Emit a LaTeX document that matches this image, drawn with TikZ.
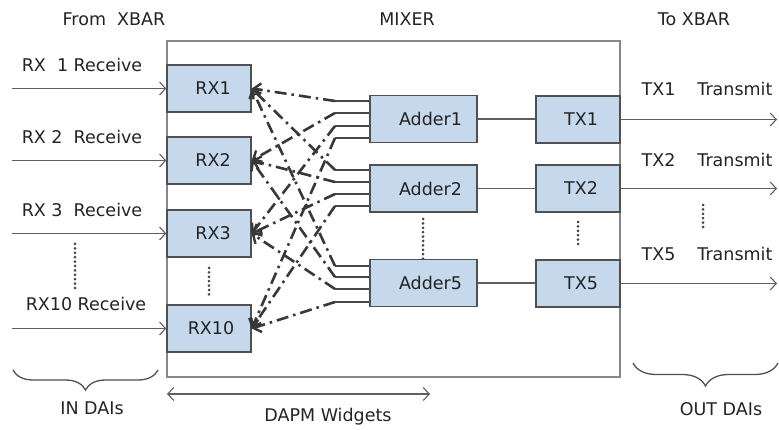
\documentclass[tikz,border=0pt]{standalone}
\usepackage{fontspec}
\setmainfont{DejaVu Sans}
\usetikzlibrary{arrows.meta,decorations.pathreplacing}
\definecolor{boxfill}{RGB}{198,216,235}
\definecolor{boxline}{RGB}{80,80,80}
\definecolor{txt}{RGB}{35,35,35}
\definecolor{wirec}{RGB}{95,95,95}
\definecolor{frame}{RGB}{135,135,135}
\begin{document}
\begin{tikzpicture}[x=1pt,y=-1pt,
  every node/.style={text=txt},
  font=\fontsize{17.5}{20}\selectfont,
  block/.style={draw=boxline, fill=boxfill, line width=1.4pt, minimum width=84pt, minimum height=47pt, inner sep=0pt},
  addblock/.style={block, minimum width=107pt},
  wire/.style={draw=wirec, line width=1.1pt},
  inarrow/.style={wire, -{Straight Barb[length=6pt,width=13pt,line width=1.1pt]}},
  stub/.style={draw=black!72, line width=1.1pt},
  dashline/.style={draw=black!78, line width=2.6pt, dash pattern=on 12pt off 5pt on 2.5pt off 5pt,
     -{Straight Barb[length=7pt,width=13pt,line width=2.4pt]}},
  dotcol/.style={draw=black!72, line width=3pt, dash pattern=on 0pt off 4.4pt, line cap=round},
  bracestyle/.style={draw=boxline, line width=1.3pt, decorate, decoration={brace, mirror, amplitude=#1}},
]
\useasboundingbox (0,0) rectangle (779,430);

% titles
\node (tfrom) at (114,19) {From\ \ XBAR};
\node (tmix) at (407,19) {MIXER};
\node (tto) at (694,19) {To XBAR};

% mixer frame
\node[draw=frame, line width=2.2pt, minimum width=453pt, minimum height=336pt, inner sep=0pt] (mixer) at (393.5,209) {};

% RX blocks
\node[block] (rx1) at (209,88.5) {\hspace*{8pt}RX1};
\node[block] (rx2) at (209,160.5) {\hspace*{8pt}RX2};
\node[block] (rx3) at (209,233.5) {\hspace*{8pt}RX3};
\node[block] (rx10) at (209,328.5) {\hspace*{4pt}RX10};

% Adders
\node[addblock] (add1) at (423.5,119) {\hspace*{14pt}Adder1};
\node[addblock] (add2) at (423.5,188.5) {\hspace*{14pt}Adder2};
\node[addblock] (add5) at (423.5,283) {\hspace*{14pt}Adder5};

% TX blocks
\node[block] (tx1) at (578,119.5) {\hspace*{6pt}TX1};
\node[block] (tx2) at (578,188.5) {\hspace*{6pt}TX2};
\node[block] (tx5) at (578,283.5) {\hspace*{6pt}TX5};

% input arrows
\coordinate (in1) at (12,88.5);
\coordinate (in2) at (12,160.5);
\coordinate (in3) at (12,233.5);
\coordinate (in10) at (12,328.5);
\draw[inarrow] (in1) -- (rx1.west);
\draw[inarrow] (in2) -- (rx2.west);
\draw[inarrow] (in3) -- (rx3.west);
\draw[inarrow] (in10) -- (rx10.west);
\node (l1) at (82,65) {RX\ \ 1 Receive};
\node (l2) at (82,137) {RX 2\ \ Receive};
\node (l3) at (82,210) {RX 3\ \ Receive};
\node (l10) at (86,304) {RX10 Receive};

% adder to TX
\draw[wire] (add1.east) -- (add1.east -| tx1.west);
\draw[wire] (add2.east) -- (add2.east -| tx2.west);
\draw[wire] (add5.east) -- (add5.east -| tx5.west);

% outputs
\coordinate (out1) at (777,119.5);
\coordinate (out2) at (777,188.5);
\coordinate (out5) at (777,283.5);
\draw[inarrow] (tx1.east) -- (out1);
\draw[inarrow] (tx2.east) -- (out2);
\draw[inarrow] (tx5.east) -- (out5);
\node (o1) at (707,89) {TX1\hspace{22pt}Transmit};
\node (o2) at (707,160) {TX2\hspace{22pt}Transmit};
\node (o5) at (707,254) {TX5\hspace{22pt}Transmit};

% stubs and dash-dot connections
\foreach \ad/\ya/\yb/\yc/\yd in {1/101/113/126/138, 2/170/182/194/206, 5/266/277/289/302} {
  \coordinate (s\ad a) at (335,\ya);
  \coordinate (s\ad b) at (335,\yb);
  \coordinate (s\ad c) at (335,\yc);
  \coordinate (s\ad d) at (335,\yd);
  \draw[stub] (s\ad a) -- (s\ad a -| add\ad.west);
  \draw[stub] (s\ad b) -- (s\ad b -| add\ad.west);
  \draw[stub] (s\ad c) -- (s\ad c -| add\ad.west);
  \draw[stub] (s\ad d) -- (s\ad d -| add\ad.west);
  \draw[dashline] (s\ad a) -- (rx1.east);
  \draw[dashline] (s\ad b) -- (rx2.east);
  \draw[dashline] (s\ad c) -- (rx3.east);
  \draw[dashline] (s\ad d) -- (rx10.east);
}

% ellipsis dots
\coordinate (d1a) at (75,244); \coordinate (d1b) at (75,288);
\coordinate (d2a) at (209,268); \coordinate (d2b) at (209,296);
\coordinate (d3a) at (423,219); \coordinate (d3b) at (423,262);
\coordinate (d4a) at (578,222); \coordinate (d4b) at (578,248);
\coordinate (d5a) at (703,205); \coordinate (d5b) at (703,231);
\draw[dotcol] (d1a) -- (d1b);
\draw[dotcol] (d2a) -- (d2b);
\draw[dotcol] (d3a) -- (d3b);
\draw[dotcol] (d4a) -- (d4b);
\draw[dotcol] (d5a) -- (d5b);

% braces
\coordinate (b1a) at (13,370); \coordinate (b1b) at (158,370);
\coordinate (b2a) at (633,363); \coordinate (b2b) at (778,363);
\draw[bracestyle=20pt] (b1a) -- (b1b);
\draw[bracestyle=23pt] (b2a) -- (b2b);
\node (indai) at (92,408) {IN DAIs};
\node (outdai) at (721,409) {OUT DAIs};

% DAPM widgets
\coordinate (w1) at (167,394);
\coordinate (w2) at (430,394);
\draw[wire, {Straight Barb[length=6pt,width=13pt,line width=1.1pt]}-{Straight Barb[length=6pt,width=13pt,line width=1.1pt]}] (w1) -- (w2);
\node (dapm) at (328,417) {DAPM Widgets};
\end{tikzpicture}
\end{document}
